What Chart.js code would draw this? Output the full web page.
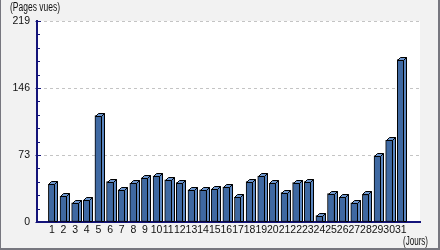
<!DOCTYPE html>
<html>
<head>
<meta charset="utf-8">
<script src="https://cdn.jsdelivr.net/npm/chart.js@4"></script>
<style>
  html, body { margin: 0; padding: 0; background: #f2f2f2; }
  #wrap { position: relative; width: 440px; height: 250px; }
</style>
</head>
<body>
<div id="wrap"><canvas id="chart" width="440" height="250"></canvas></div>
<script>
// Données
const days = ['1','2','3','4','5','6','7','8','9','10','11','12','13','14','15','16',
  '17','18','19','20','21','22','23','24','25','26','27','28','29','30','31'];
const pageViews = [41, 28, 21, 24, 116, 44, 35, 42, 48, 50, 46, 43, 35, 35, 36, 38,
  27, 44, 50, 42, 32, 43, 44, 7, 31, 27, 21, 30, 72, 89, 177];
const yTicks = [0, 73, 146, 219];
const yTitle = '(Pages vues)';
const xTitle = '(Jours)';

const NAVY = '#14147a';
const DEPTH = 3;
const TICK_FONT = "'Liberation Sans', Arial, sans-serif";

// texte condensé horizontalement pour tenir dans une largeur donnée
function narrowText(ctx, text, x, y, width) {
  const w = ctx.measureText(text).width;
  ctx.save();
  ctx.translate(x, y);
  ctx.scale(width / w, 1);
  ctx.fillText(text, 0, 0);
  ctx.restore();
}

// Fond blanc de la zone de tracé + cadre
const backgroundPlugin = {
  id: 'background',
  beforeDraw(chart) {
    const { ctx, chartArea: a } = chart;
    ctx.save();
    ctx.fillStyle = '#f2f2f2';
    ctx.fillRect(0, 0, chart.width, chart.height);
    ctx.fillStyle = '#ffffff';
    ctx.fillRect(a.left, a.top, a.right - a.left, a.bottom - a.top);
    ctx.restore();
  },
  afterDraw(chart) {
    const { ctx } = chart;
    ctx.save();
    ctx.fillStyle = '#77777f';
    ctx.fillRect(0, 0, 1, chart.height);
    ctx.fillRect(chart.width - 2, 0, 2, chart.height);
    ctx.fillRect(0, chart.height - 2, chart.width, 2);

    // titres
    ctx.fillStyle = '#111';
    ctx.font = "12px 'Liberation Sans', sans-serif";
    ctx.textBaseline = 'alphabetic';
    ctx.textAlign = 'left';
    narrowText(ctx, yTitle, 10, 11, 50);
    narrowText(ctx, xTitle, 403, 245, 25);

    // graduations de l'axe Y
    const y = chart.scales.y;
    const x0 = chart.chartArea.left;
    ctx.strokeStyle = NAVY;
    ctx.lineWidth = 1;
    const step = (yTicks[1] - yTicks[0]) / 5;
    for (let v = 0; v <= yTicks[yTicks.length - 1] + 0.01; v += step) {
      const py = Math.round(y.getPixelForValue(v)) + 0.5;
      const major = yTicks.some(t => Math.abs(t - v) < 0.01);
      ctx.beginPath();
      ctx.moveTo(major ? x0 - 1.5 : x0, py);
      ctx.lineTo(major ? x0 + 4 : x0 + 3, py);
      ctx.stroke();
    }
    ctx.restore();
  }
};

// Effet 3D des barres (dessus + côté)
const bar3dPlugin = {
  id: 'bar3d',
  afterDatasetsDraw(chart) {
    const { ctx } = chart;
    const meta = chart.getDatasetMeta(0);
    ctx.save();
    ctx.strokeStyle = '#000';
    ctx.lineWidth = 1;
    meta.data.forEach(bar => {
      const p = bar.getProps(['x', 'y', 'width', 'base'], true);
      const l = Math.round(p.x - p.width / 2) + 0.5;
      const r = Math.round(p.x + p.width / 2) - 0.5;
      const t = Math.round(p.y) + 0.5;
      const b = p.base;
      // côté
      ctx.fillStyle = '#5a86c0';
      ctx.beginPath();
      ctx.moveTo(r, t);
      ctx.lineTo(r + DEPTH, t - DEPTH);
      ctx.lineTo(r + DEPTH, b);
      ctx.lineTo(r, b);
      ctx.closePath();
      ctx.fill();
      ctx.stroke();
      // dessus
      ctx.fillStyle = '#6c95cc';
      ctx.beginPath();
      ctx.moveTo(l, t);
      ctx.lineTo(l + DEPTH, t - DEPTH);
      ctx.lineTo(r + DEPTH, t - DEPTH);
      ctx.lineTo(r, t);
      ctx.closePath();
      ctx.fill();
      ctx.stroke();
    });
    ctx.restore();
  }
};

new Chart(document.getElementById('chart'), {
  type: 'bar',
  data: {
    datasets: [{
      data: pageViews.map((v, i) => ({ x: i + 1, y: v })),
      backgroundColor: '#3f69a2',
      borderColor: '#000',
      borderWidth: 1,
      borderSkipped: false,
      barThickness: 7
    }]
  },
  options: {
    responsive: false,
    animation: false,
    events: [],
    layout: { padding: { top: 21, right: 20, left: 0, bottom: 0 } },
    plugins: { legend: { display: false }, tooltip: { enabled: false } },
    scales: {
      x: {
        type: 'linear',
        min: 0.25,
        max: 32.12,
        afterFit: s => { s.height = 28; },
        afterBuildTicks: s => { s.ticks = s.ticks.filter(t => t.value >= 1 && t.value <= days.length); },
        grid: { display: false, drawTicks: false },
        border: { display: true, color: NAVY, width: 2 },
        ticks: {
          stepSize: 1,
          includeBounds: false,
          autoSkip: false,
          maxRotation: 0,
          padding: 2,
          color: '#111',
          font: { family: TICK_FONT, size: 10.5 },
          callback: v => days[v - 1]
        }
      },
      y: {
        min: 0,
        max: 219,
        afterFit: s => { s.width = 37; },
        afterBuildTicks: s => { s.ticks = yTicks.map(v => ({ value: v })); },
        grid: {
          drawTicks: false,
          color: ctx => ctx.tick && ctx.tick.value === 0 ? 'rgba(0,0,0,0)' : '#c4c4c4',
          lineWidth: 1
        },
        border: { display: true, color: NAVY, width: 2, dash: [3, 3] },
        ticks: {
          padding: 7,
          color: '#111',
          font: { family: TICK_FONT, size: 10.5 }
        }
      }
    }
  },
  plugins: [backgroundPlugin, bar3dPlugin]
});
</script>
</body>
</html>
